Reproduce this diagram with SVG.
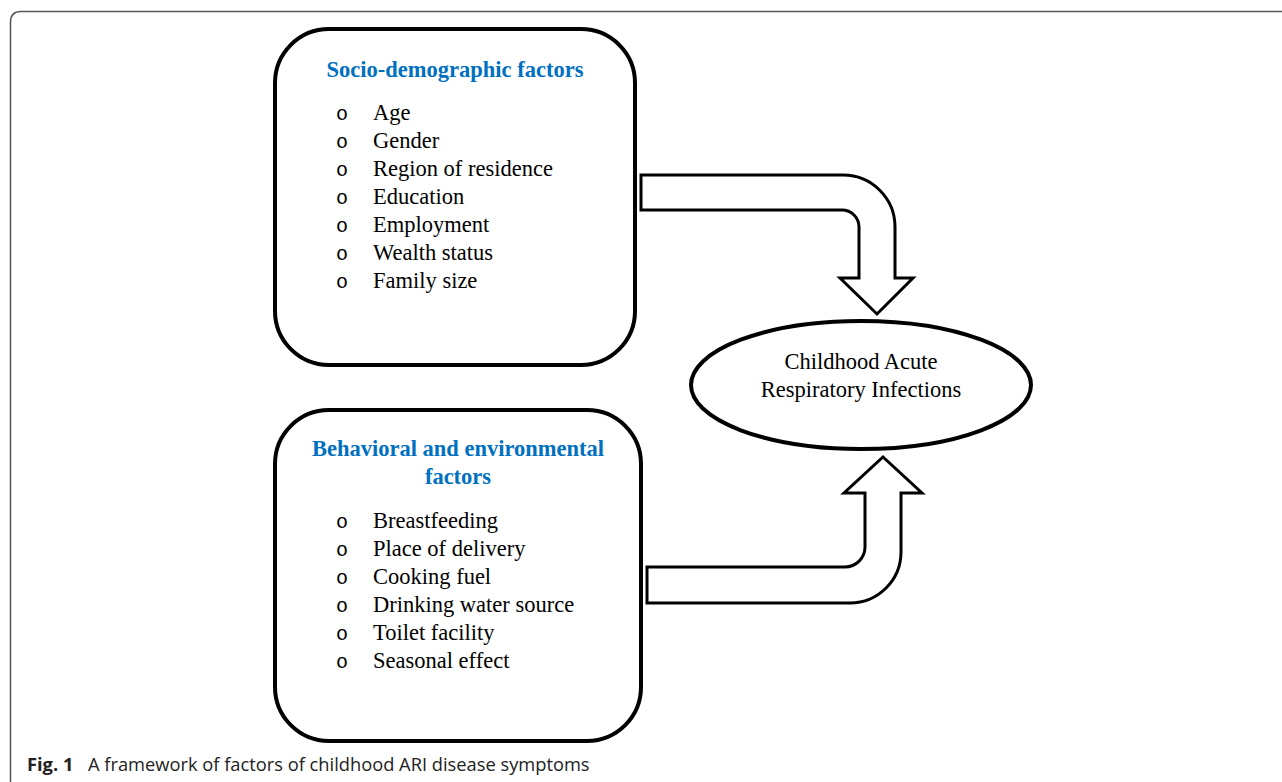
<svg xmlns="http://www.w3.org/2000/svg" width="1282" height="782" viewBox="0 0 1282 782">
<style>
.box{fill:#fff;stroke:#000;stroke-width:4}
.arrow{fill:#fff;stroke:#000;stroke-width:3;stroke-linejoin:miter}
.hd{font-family:"Liberation Serif","Times New Roman",serif;font-weight:bold;font-size:22.5px;fill:#0070C0;text-anchor:middle}
.it{font-family:"Liberation Serif","Times New Roman",serif;font-size:22.5px;fill:#000}
.bu{font-family:"Liberation Mono","Courier New",monospace;font-size:20px;fill:#000}
.ct{font-family:"Liberation Serif","Times New Roman",serif;font-size:22.5px;fill:#000;text-anchor:middle}
.cap{font-family:"Open Sans","Noto Sans",sans-serif;font-size:18.3px;fill:#222}
</style>
<rect width="1282" height="782" fill="#fff"/>
<path d="M10.5 782 V22 Q10.5 11.5 21 11.5 H1282" fill="none" stroke="#555" stroke-width="1.5"/>
<g id="connectors">
<path class="arrow" d="M641 175 H843 A52 52 0 0 1 895 227 V278 H913 L877 314 L840 278 H859 V227 A17 17 0 0 0 842 210 H641 Z"/>
<path class="arrow" d="M647 603 H850 A51 51 0 0 0 901 552 V493 H922 L883 457 L844 493 H865 V547 A20 20 0 0 1 845 567 H647 Z"/>
</g>
<g id="socio">
<rect class="box" x="275" y="29" width="360" height="336" rx="54" ry="54"/>
<text class="hd" x="455" y="77">Socio-demographic factors</text>
<g class="bu">
<text x="336" y="120">o</text><text x="336" y="148">o</text><text x="336" y="176">o</text><text x="336" y="204">o</text><text x="336" y="232">o</text><text x="336" y="260">o</text><text x="336" y="288">o</text>
</g>
<g class="it">
<text x="373" y="120">Age</text>
<text x="373" y="148">Gender</text>
<text x="373" y="176">Region of residence</text>
<text x="373" y="204">Education</text>
<text x="373" y="232">Employment</text>
<text x="373" y="260">Wealth status</text>
<text x="373" y="288">Family size</text>
</g>
</g>
<g id="behavioral">
<rect class="box" x="275" y="410" width="366" height="331" rx="54" ry="54"/>
<text class="hd" x="458" y="456">Behavioral and environmental</text>
<text class="hd" x="458" y="484">factors</text>
<g class="bu">
<text x="336" y="528">o</text><text x="336" y="556">o</text><text x="336" y="584">o</text><text x="336" y="612">o</text><text x="336" y="640">o</text><text x="336" y="668">o</text>
</g>
<g class="it">
<text x="373" y="528">Breastfeeding</text>
<text x="373" y="556">Place of delivery</text>
<text x="373" y="584">Cooking fuel</text>
<text x="373" y="612">Drinking water source</text>
<text x="373" y="640">Toilet facility</text>
<text x="373" y="668">Seasonal effect</text>
</g>
</g>
<g id="ari">
<ellipse class="box" cx="861" cy="385" rx="170" ry="64"/>
<text class="ct" x="861" y="369">Childhood Acute</text>
<text class="ct" x="861" y="397">Respiratory Infections</text>
</g>
<text class="cap" x="27" y="771"><tspan font-weight="bold">Fig. 1</tspan><tspan x="88">A framework of factors of childhood ARI disease symptoms</tspan></text>
</svg>
